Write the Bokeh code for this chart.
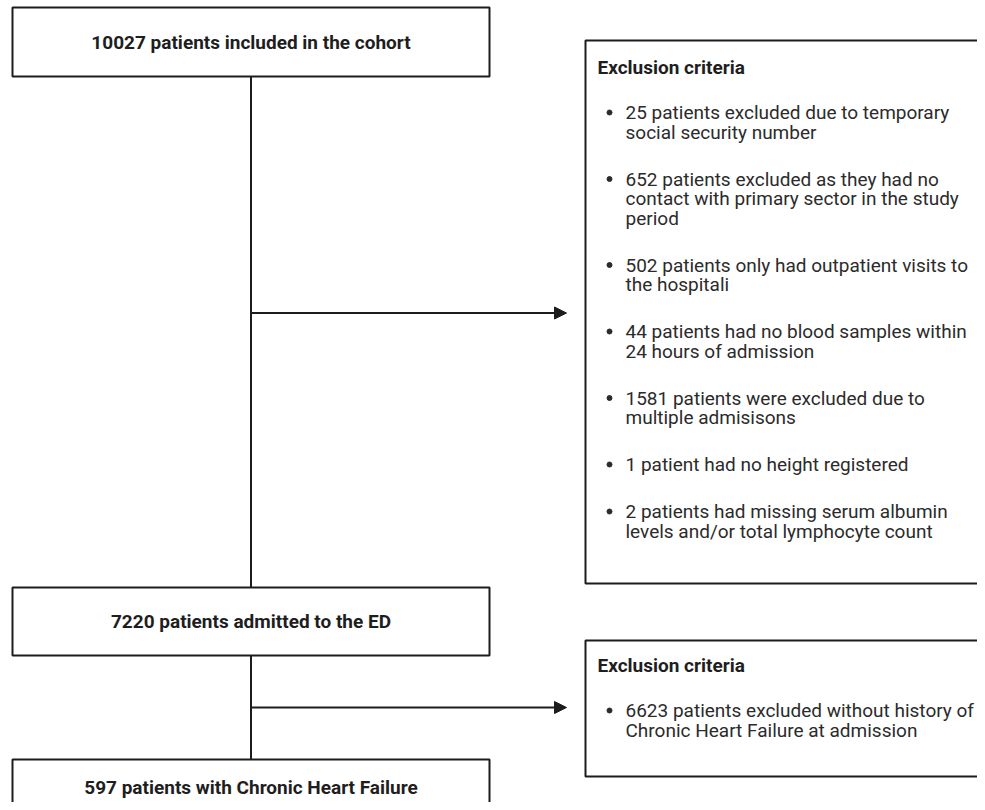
from bokeh.plotting import figure
from bokeh.models import Range1d, Arrow, NormalHead
from bokeh.core.properties import value
from bokeh.embed import file_html
from bokeh.resources import INLINE

# ---------------- data ----------------
flow_counts = [10027, 7220, 597]
flow_labels = ["patients included in the cohort",
               "patients admitted to the ED",
               "patients with Chronic Heart Failure"]

excl_title = "Exclusion criteria"
excl1_counts = [25, 652, 502, 44, 1581, 1, 2]
excl1_lines = [
    ["patients excluded due to temporary", "social security number"],
    ["patients excluded as they had no", "contact with primary sector in the study", "period"],
    ["patients only had outpatient visits to", "the hospitali"],
    ["patients had no blood samples within", "24 hours of admission"],
    ["patients were excluded due to", "multiple admisisons"],
    ["patient had no height registered"],
    ["patients had missing serum albumin", "levels and/or total lymphocyte count"],
]
excl2_counts = [6623]
excl2_lines = [
    ["patients excluded without history of", "Chronic Heart Failure at admission"],
]

# ---------------- layout (pixel coordinates of the picture) ----------------
W, H = 977, 802
LINE = "#1c1c1c"
TXT_B = "#1e1e1e"
TXT = "#2b2b2b"
FONT = value("Roboto")

p = figure(width=W, height=H, output_backend="svg", toolbar_location=None,
           x_range=Range1d(0, W), y_range=Range1d(H, 0),
           x_axis_type=None, y_axis_type=None, min_border=0,
           outline_line_color=None, background_fill_color="white",
           border_fill_color="white")
p.grid.visible = False

# main flow boxes
box_l, box_r = 12, 489
box_tb = [(7, 76), (587, 655), (759, 860)]
box_text_y = [41.5, 621, 787]
p.quad(left=[box_l] * 3, right=[box_r] * 3,
       top=[t for t, b in box_tb], bottom=[b for t, b in box_tb],
       fill_color="white", line_color=LINE, line_width=2)
p.text(x=[(box_l + box_r) / 2] * 3, y=box_text_y,
       text=[f"{c} {l}" for c, l in zip(flow_counts, flow_labels)],
       text_font=FONT, text_font_style="bold", text_font_size="19px",
       text_color=TXT_B, text_align="center", text_baseline="middle")

# vertical connectors
vx = 250.5
p.segment(x0=[vx, vx], y0=[76, 655], x1=[vx, vx], y1=[587, 759],
          line_color=LINE, line_width=2)

# arrows to exclusion boxes
for ay in [312.5, 707]:
    p.add_layout(Arrow(end=NormalHead(size=12, fill_color=LINE, line_color=LINE, line_width=1),
                       x_start=vx, y_start=ay, x_end=566, y_end=ay,
                       line_color=LINE, line_width=2))

# exclusion boxes
ex_l, ex_r = 585, 1010
ex_tb = [(40, 583), (640, 776)]
p.quad(left=[ex_l] * 2, right=[ex_r] * 2,
       top=[t for t, b in ex_tb], bottom=[b for t, b in ex_tb],
       fill_color="white", line_color=LINE, line_width=2)

title_y = [67, 665]
p.text(x=[597] * 2, y=title_y, text=[excl_title] * 2,
       text_font=FONT, text_font_style="bold", text_font_size="19px",
       text_color=TXT_B, text_align="left", text_baseline="middle")

LH = 19.5
GAP = 47
bx, tx = 609, 625
lines_x, lines_y, lines_t, bul_y = [], [], [], []
for counts, items, y0 in [(excl1_counts, excl1_lines, 112), (excl2_counts, excl2_lines, 710)]:
    y = y0
    for c, ls in zip(counts, items):
        bul_y.append(y)
        for i, s in enumerate(ls):
            lines_t.append(f"{c} {s}" if i == 0 else s)
            lines_y.append(y)
            lines_x.append(tx)
            if i < len(ls) - 1:
                y += LH
        y += GAP

p.scatter(x=[bx] * len(bul_y), y=bul_y, size=5, marker="circle",
          fill_color=TXT, line_color=TXT)
p.text(x=lines_x, y=lines_y, text=lines_t, text_font=FONT,
       text_font_size="19px", text_color=TXT, text_align="left",
       text_baseline="middle")

open("out.html", "w").write(file_html(p, INLINE))
